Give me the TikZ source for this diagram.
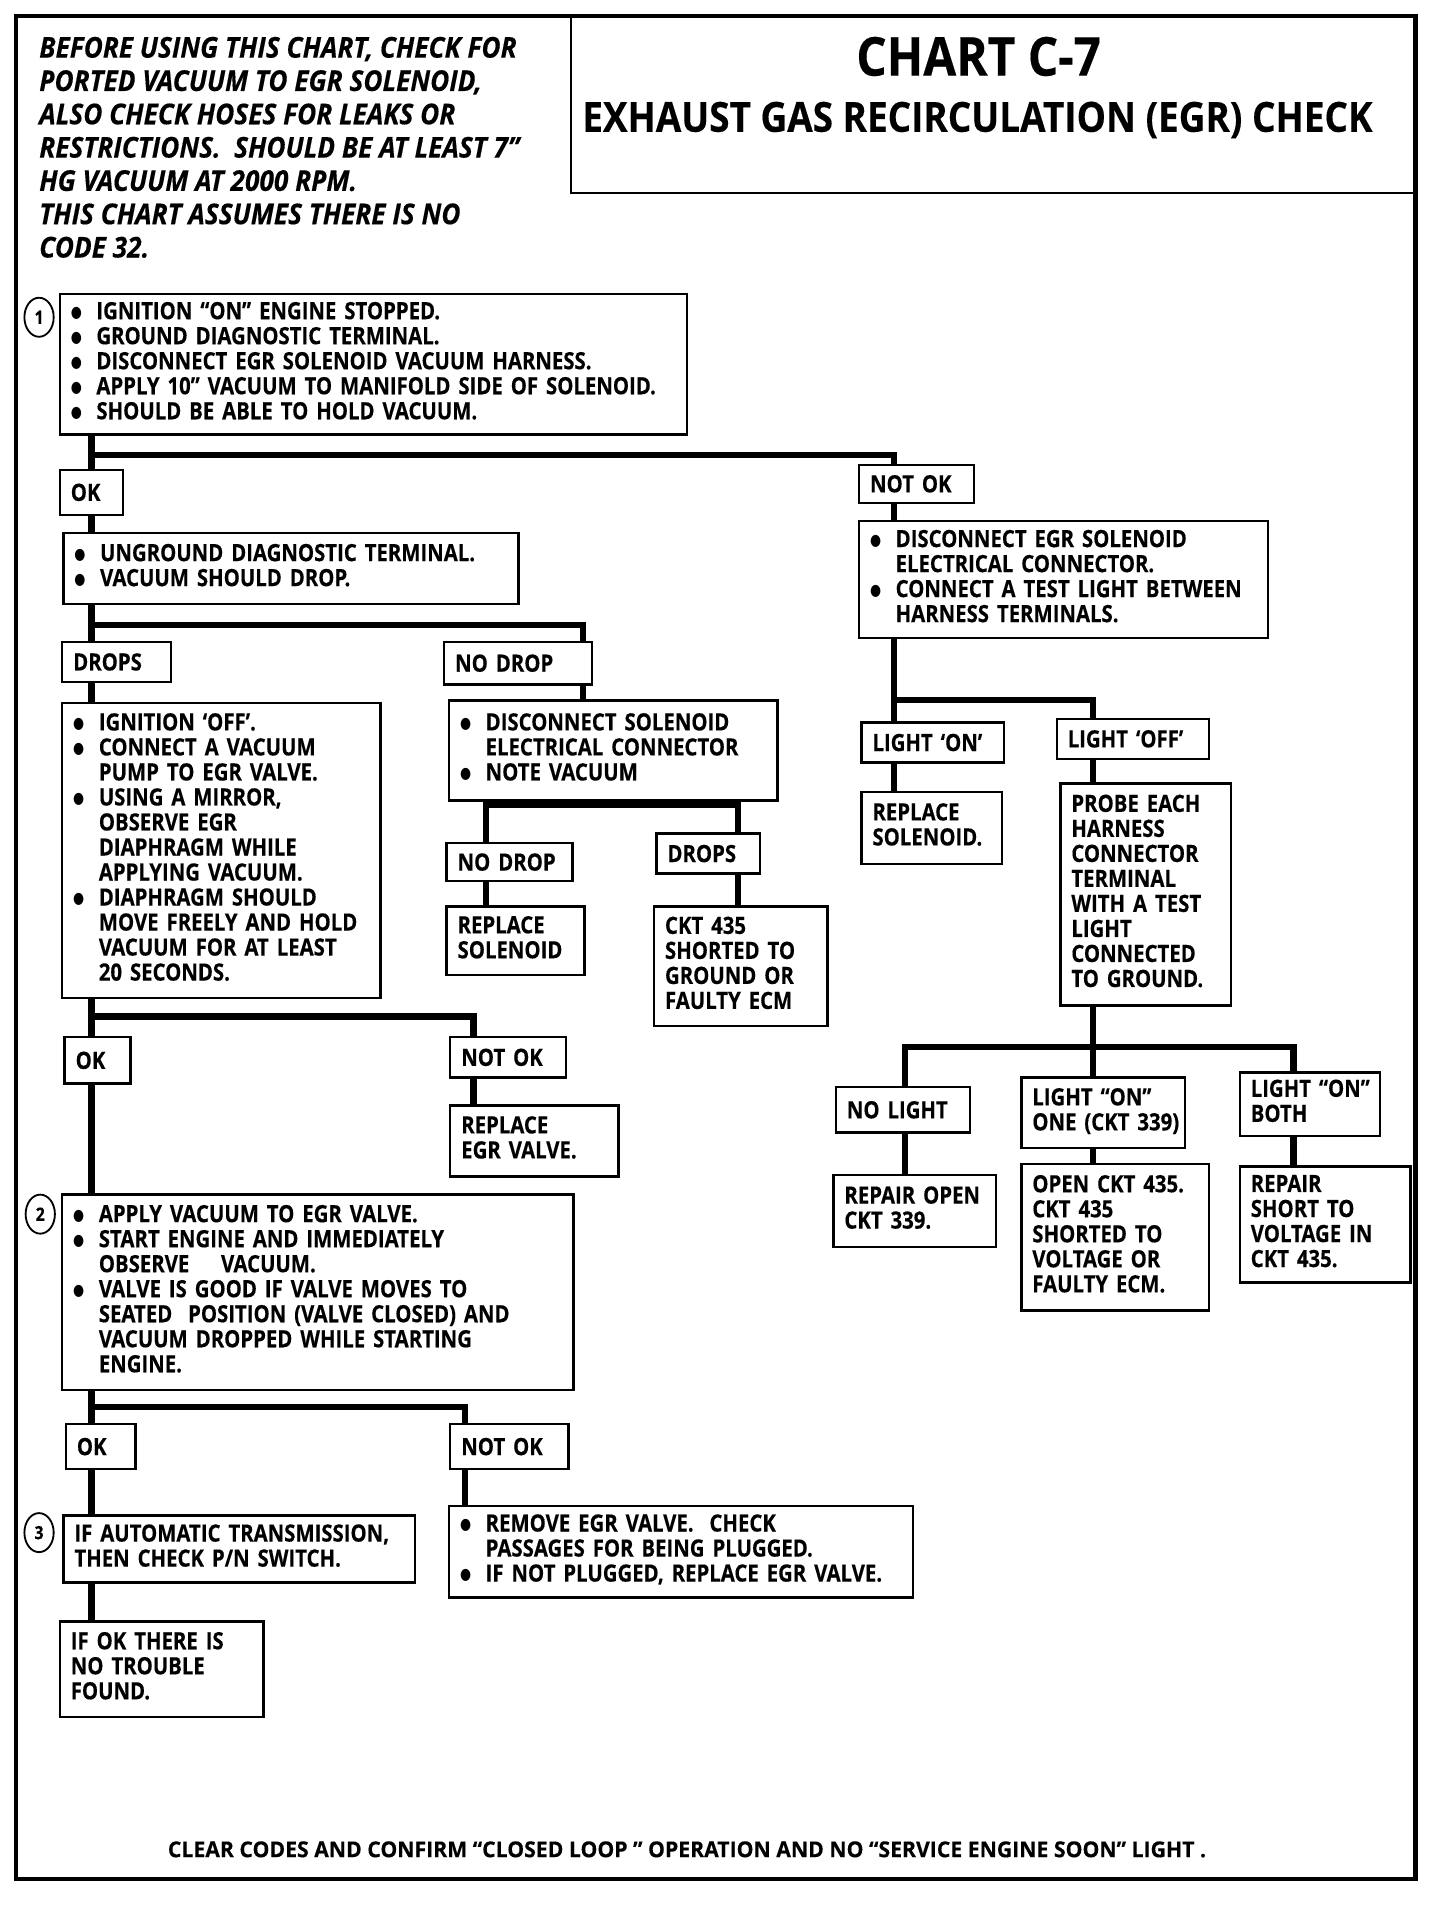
\documentclass[tikz,border=0pt]{standalone}
\usepackage{fontspec}
\setmainfont{Open Sans}[FakeStretch=0.855, FakeBold=0.35]
\newfontfamily\notef{Open Sans}[FakeStretch=0.915, FakeBold=0.35]
\newfontfamily\footf{Open Sans}[FakeStretch=0.966, FakeBold=0.3]
\newfontfamily\titlef{Open Sans}[FakeStretch=0.89, FakeBold=0.3]
\newfontfamily\dotf{DejaVu Sans}[FakeStretch=0.8]
\usetikzlibrary{shapes.geometric}
\newcommand\bl{\makebox[21pt][l]{\raisebox{1.5pt}{\dotf\fontsize{13}{13}\selectfont ●}}}
\newcommand\ii{\hspace*{21pt}}
\newcommand\tl[1]{\begin{tabular}{@{}l@{}}#1\end{tabular}}
\tikzset{
  box/.style={draw, line width=2pt, fill=white, anchor=north west, align=left,
    inner xsep=9pt, inner ysep=0pt, font=\fontsize{19.5}{20.5}\selectfont\bfseries},
  conn/.style={line width=5pt},
  num/.style={draw, ellipse, line width=1.5pt, minimum width=24pt, minimum height=32pt,
    inner sep=0pt, font=\fontsize{15}{15}\selectfont\bfseries},
}
\begin{document}
\begin{tikzpicture}[x=1pt,y=-1pt]
\useasboundingbox (0,0) rectangle (1180,1562);
% frame and title
\draw[line width=3.5pt] (13,13) rectangle (1160,1540);
\node[draw, line width=2pt, anchor=north west, minimum width=693pt, minimum height=144pt, inner sep=0pt] (title) at (467,13) {};
\node[anchor=base, font=\titlef\fontsize{44}{44}\selectfont\bfseries] (t1) at (802,62) {CHART C-7};
\node[anchor=base, font=\titlef\fontsize{34}{34}\selectfont\bfseries] (t2) at (801,108) {EXHAUST GAS RECIRCULATION (EGR) CHECK};
\node[anchor=north west, inner sep=0pt, align=left, font=\notef\fontsize{23.5}{27.3}\selectfont\bfseries\itshape] (note) at (32,30)
 {BEFORE USING THIS CHART, CHECK FOR\\PORTED VACUUM TO EGR SOLENOID,\\ALSO CHECK HOSES FOR LEAKS OR\\RESTRICTIONS.\ \ SHOULD BE AT LEAST 7”\\HG VACUUM AT 2000 RPM.\\THIS CHART ASSUMES THERE IS NO\\CODE 32.};
\node[anchor=base, font=\footf\fontsize{18}{18}\selectfont\bfseries] (foot) at (563,1522)
 {CLEAR CODES AND CONFIRM “CLOSED LOOP ” OPERATION AND NO “SERVICE ENGINE SOON” LIGHT .};

% coordinates of vertical runs
\coordinate (T) at (75,0);
\coordinate (R) at (733,0);
\coordinate (P) at (896,0);
\coordinate (L) at (742,0);
\coordinate (S) at (1060,0);
\coordinate (N) at (478,0);
\coordinate (M) at (398,0);
\coordinate (D) at (605,0);
\coordinate (E) at (388,0);
\coordinate (F) at (381,0);
\coordinate (j1) at (75,373);
\coordinate (j2) at (75,512);
\coordinate (j3) at (733,574);
\coordinate (j4) at (742,858);
\coordinate (j5) at (398,660);
\coordinate (j6) at (75,833);
\coordinate (j7) at (75,1153);

% left column
\node[box, text width=496pt, minimum height=115pt] (b1) at (48,240) {\tl{\bl IGNITION “ON” ENGINE STOPPED.\\\bl GROUND DIAGNOSTIC TERMINAL.\\\bl DISCONNECT EGR SOLENOID VACUUM HARNESS.\\\bl APPLY 10” VACUUM TO MANIFOLD SIDE OF SOLENOID.\\\bl SHOULD BE ABLE TO HOLD VACUUM.}};
\node[num] (n1) at (32,260) {1};
\node[box, text width=34pt, minimum height=37pt] (ok1) at (48,384) {OK};
\node[box, text width=355pt, minimum height=58pt] (ung) at (51,436) {\tl{\bl UNGROUND DIAGNOSTIC TERMINAL.\\\bl VACUUM SHOULD DROP.}};
\node[box, text width=71pt, minimum height=33pt] (drops1) at (50,525) {DROPS};
\node[box, text width=103pt, minimum height=35pt] (nodrop1) at (363,525) {NO DROP};
\node[box, text width=243pt, minimum height=242pt] (ignoff) at (50,575) {\tl{\bl IGNITION ‘OFF’.\\\bl CONNECT A VACUUM\\\ii PUMP TO EGR VALVE.\\\bl USING A MIRROR,\\\ii OBSERVE EGR\\\ii DIAPHRAGM WHILE\\\ii APPLYING VACUUM.\\\bl DIAPHRAGM SHOULD\\\ii MOVE FREELY AND HOLD\\\ii VACUUM FOR AT LEAST\\\ii 20 SECONDS.}};
\node[box, text width=251pt, minimum height=82pt] (discsol) at (367,573) {\tl{\bl DISCONNECT SOLENOID\\\ii ELECTRICAL CONNECTOR\\\bl NOTE VACUUM}};
\node[box, text width=85pt, minimum height=31pt] (nodrop2) at (365,690) {NO DROP};
\node[box, text width=67pt, minimum height=33pt] (drops2) at (537,682) {DROPS};
\node[box, text width=95pt, minimum height=56pt] (repsol1) at (365,742) {\tl{REPLACE\\SOLENOID}};
\node[box, text width=124pt, minimum height=98pt] (ckt435) at (535,742) {\tl{CKT 435\\SHORTED TO\\GROUND OR\\FAULTY ECM}};
\node[box, text width=36pt, minimum height=38pt] (ok2) at (52,849) {OK};
\node[box, text width=77pt, minimum height=33pt] (nok2) at (368,849) {NOT OK};
\node[box, text width=120pt, minimum height=58pt] (repegr) at (368,905) {\tl{REPLACE\\EGR VALVE.}};
\node[box, text width=401pt, minimum height=160pt] (b2) at (50,978) {\tl{\bl APPLY VACUUM TO EGR VALVE.\\\bl START ENGINE AND IMMEDIATELY\\\ii OBSERVE\ \ \ \ VACUUM.\\\bl VALVE IS GOOD IF VALVE MOVES TO\\\ii SEATED\ \ POSITION (VALVE CLOSED) AND\\\ii VACUUM DROPPED WHILE STARTING\\\ii ENGINE.}};
\node[num] (n2) at (33,995) {2};
\node[box, text width=39pt, minimum height=37pt] (ok3) at (53,1166) {OK};
\node[box, text width=79pt, minimum height=37pt] (nok3) at (368,1166) {NOT OK};
\node[box, text width=362pt, minimum height=75pt] (remove) at (367,1233) {\tl{\bl REMOVE EGR VALVE.\ \ CHECK\\\ii PASSAGES FOR BEING PLUGGED.\\\bl IF NOT PLUGGED, REPLACE EGR VALVE.}};
\node[box, text width=270pt, minimum height=55pt] (b3) at (51,1241) {\tl{IF AUTOMATIC TRANSMISSION,\\THEN CHECK P/N SWITCH.}};
\node[num] (n3) at (32,1256) {3};
\node[box, text width=149pt, minimum height=78pt] (ifok) at (48,1328) {\tl{IF OK THERE IS\\NO TROUBLE\\FOUND.}};

% right column
\node[box, text width=76pt, minimum height=31pt] (nok1) at (703,380) {NOT OK};
\node[box, text width=317pt, minimum height=96pt] (disc) at (703,426) {\tl{\bl DISCONNECT EGR SOLENOID\\\ii ELECTRICAL CONNECTOR.\\\bl CONNECT A TEST LIGHT BETWEEN\\\ii HARNESS TERMINALS.}};
\node[box, text width=99pt, minimum height=33pt] (lon) at (705,591) {LIGHT ‘ON’};
\node[box, text width=107pt, minimum height=33pt] (loff) at (865,588) {LIGHT ‘OFF’};
\node[box, text width=97pt, minimum height=59pt] (repsol2) at (705,648) {\tl{REPLACE\\SOLENOID.}};
\node[box, text width=122pt, minimum height=182pt] (probe) at (868,641) {\tl{PROBE EACH\\HARNESS\\CONNECTOR\\TERMINAL\\WITH A TEST\\LIGHT\\CONNECTED\\TO GROUND.}};
\node[box, text width=92pt, minimum height=37pt] (nolight) at (684,890) {NO LIGHT};
\node[box, text width=116pt, minimum height=58pt] (lone) at (836,882) {\tl{LIGHT “ON”\\ONE (CKT 339)}};
\node[box, text width=97pt, minimum height=52pt] (lboth) at (1015,878) {\tl{LIGHT “ON”\\BOTH}};
\node[box, text width=115pt, minimum height=59pt] (repopen) at (682,962) {\tl{REPAIR OPEN\\CKT 339.}};
\node[box, text width=136pt, minimum height=120pt] (openckt) at (836,953) {\tl{OPEN CKT 435.\\CKT 435\\SHORTED TO\\VOLTAGE OR\\FAULTY ECM.}};
\node[box, text width=122pt, minimum height=95pt] (repshort) at (1015,955) {\tl{REPAIR\\SHORT TO\\VOLTAGE IN\\CKT 435.}};

% connectors
\draw[conn] (T|-b1.south) -- (T|-ok1.north);
\draw[conn] (T|-ok1.south) -- (T|-ung.north);
\draw[conn] (T|-ung.south) -- (T|-drops1.north);
\draw[conn] (T|-drops1.south) -- (T|-ignoff.north);
\draw[conn] (T|-ignoff.south) -- (T|-ok2.north);
\draw[conn] (T|-ok2.south) -- (T|-b2.north);
\draw[conn] (T|-b2.south) -- (T|-ok3.north);
\draw[conn] (T|-ok3.south) -- (T|-b3.north);
\draw[conn] (T|-b3.south) -- (T|-ifok.north);
\draw[conn] (j1) -| (R|-nok1.north);
\draw[conn] (R|-nok1.south) -- (R|-disc.north);
\draw[conn] (R|-disc.south) -- (R|-lon.north);
\draw[conn] (j3) -| (P|-loff.north);
\draw[conn] (R|-lon.south) -- (R|-repsol2.north);
\draw[conn] (P|-loff.south) -- (P|-probe.north);
\draw[conn] (P|-probe.south) -- (P|-lone.north);
\draw[conn] (L|-nolight.north) |- (j4) -| (S|-lboth.north);
\draw[conn] (j4) -- (P|-j4);
\draw[conn] (L|-nolight.south) -- (L|-repopen.north);
\draw[conn] (P|-lone.south) -- (P|-openckt.north);
\draw[conn] (S|-lboth.south) -- (S|-repshort.north);
\draw[conn] (j2) -| (N|-nodrop1.north);
\draw[conn] (N|-nodrop1.south) -- (N|-discsol.north);
\draw[conn] (M|-discsol.south) -- (M|-nodrop2.north);
\draw[conn] (j5) -| (D|-drops2.north);
\draw[conn] (M|-nodrop2.south) -- (M|-repsol1.north);
\draw[conn] (D|-drops2.south) -- (D|-ckt435.north);
\draw[conn] (j6) -| (E|-nok2.north);
\draw[conn] (E|-nok2.south) -- (E|-repegr.north);
\draw[conn] (j7) -| (F|-nok3.north);
\draw[conn] (F|-nok3.south) -- (F|-remove.north);
\end{tikzpicture}
\end{document}
